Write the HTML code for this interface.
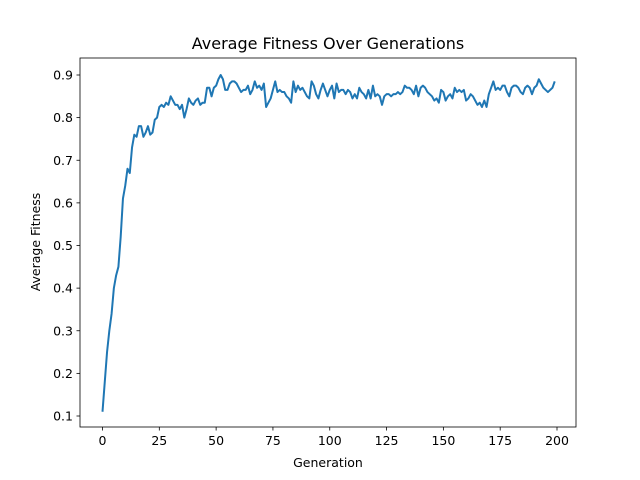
<!DOCTYPE html>
<html><head><meta charset="utf-8"><style>body{margin:0;background:#fff}svg{display:block;font-family:"DejaVu Sans","Liberation Sans",sans-serif}</style></head>
<body>
<svg id="chart" width="640" height="480" viewBox="0 0 640 480"></svg>
<script>
const fitness = [0.11,0.18,0.25,0.30,0.34,0.40,0.43,0.45,0.52,0.61,0.64,0.68,0.67,0.73,0.76,0.755,0.78,0.78,0.755,0.765,0.78,0.76,0.765,0.795,0.80,0.825,0.83,0.825,0.835,0.83,
0.85,0.84,0.83,0.83,0.82,0.83,0.80,0.82,0.845,0.835,0.83,0.84,0.845,0.83,0.835,0.835,0.87,0.87,0.85,0.87,
0.875,0.89,0.90,0.89,0.865,0.865,0.88,0.885,0.885,0.88,0.87,0.86,0.865,0.865,0.875,0.855,0.865,0.885,0.87,0.875,
0.865,0.88,0.825,0.835,0.845,0.865,0.885,0.86,0.865,0.86,0.86,0.85,0.845,0.835,0.885,0.86,0.875,0.865,0.87,0.86,
0.85,0.845,0.885,0.875,0.855,0.845,0.865,0.88,0.865,0.85,0.865,0.875,0.845,0.88,0.86,0.865,0.865,0.855,0.865,0.86,
0.845,0.855,0.845,0.87,0.86,0.855,0.845,0.865,0.845,0.875,0.85,0.855,0.85,0.83,0.85,0.855,0.855,0.85,0.855,0.855,
0.86,0.855,0.86,0.875,0.87,0.87,0.865,0.855,0.875,0.85,0.87,0.875,0.87,0.86,0.855,0.85,0.84,0.845,0.835,0.865,
0.86,0.84,0.85,0.855,0.845,0.87,0.86,0.865,0.86,0.865,0.84,0.845,0.855,0.85,0.84,0.83,0.835,0.825,0.84,0.825,
0.855,0.87,0.885,0.865,0.87,0.865,0.875,0.875,0.86,0.85,0.87,0.875,0.875,0.87,0.86,0.855,0.87,0.875,0.87,0.855,
0.87,0.875,0.89,0.88,0.87,0.865,0.86,0.865,0.87,0.885];
const xTicks = [0,25,50,75,100,125,150,175,200];
const yTicks = [0.1,0.2,0.3,0.4,0.5,0.6,0.7,0.8,0.9];
const NS="http://www.w3.org/2000/svg", svg=document.getElementById('chart');
const L=80,R=576,T=58,B=427;
const xs=v=>102.5+(v/200)*454.5;
const ys=v=>416-(v-0.1)/0.8*341;
function mk(t,a,p){const e=document.createElementNS(NS,t);for(const k in a)e.setAttribute(k,a[k]);(p||svg).appendChild(e);return e;}
const title=mk('text',{x:328,y:49,'text-anchor':'middle','font-size':16,fill:'#000'});title.textContent='Average Fitness Over Generations';


const d=fitness.map((v,i)=>(i?'L':'M')+xs(i).toFixed(2)+','+ys(v).toFixed(2)).join('');
const line=mk('path',{d:d,fill:'none',stroke:'#1f77b4','stroke-width':2,'stroke-linejoin':'round'});


const frame=mk('rect',{x:L,y:T,width:R-L,height:B-T,fill:'none',stroke:'#000','stroke-width':0.8});


xTicks.forEach(t=>{const x=xs(t);mk('line',{x1:x,x2:x,y1:B,y2:B+3.5,stroke:'#000','stroke-width':0.8});
const tx=mk('text',{x:x,y:B+18,'text-anchor':'middle','font-size':12.5,fill:'#000'});tx.textContent=t;

});
yTicks.forEach(t=>{const y=ys(t);mk('line',{x1:L,x2:L-3.5,y1:y,y2:y,stroke:'#000','stroke-width':0.8});
const tx=mk('text',{x:L-7,y:y+4.5,'text-anchor':'end','font-size':12.5,fill:'#000'});tx.textContent=t.toFixed(1);

});
const xl=mk('text',{x:328,y:467,'text-anchor':'middle','font-size':12.5,fill:'#000'});xl.textContent='Generation';


const yl=mk('text',{x:0,y:0,'text-anchor':'middle','font-size':12.5,fill:'#000',transform:'translate(40,242) rotate(-90)'});yl.textContent='Average Fitness';


</script>
</body></html>
